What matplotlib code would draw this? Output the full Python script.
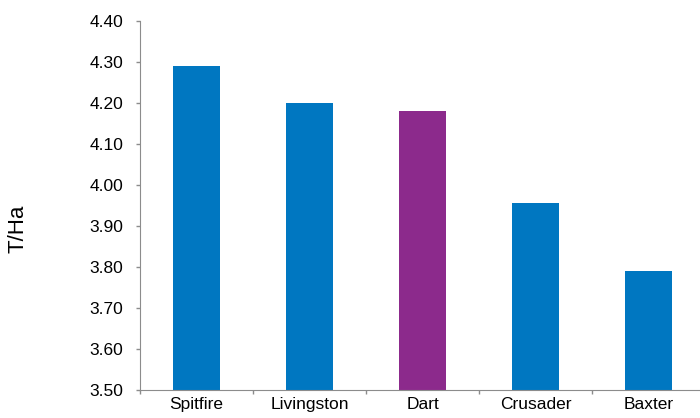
import matplotlib
matplotlib.use('Agg')
import matplotlib.pyplot as plt
import numpy as np

plt.rcParams['font.family'] = ['Liberation Sans', 'DejaVu Sans']

varieties = ['Spitfire', 'Livingston', 'Dart', 'Crusader', 'Baxter']
yields = [4.29, 4.20, 4.18, 3.955, 3.79]
highlight = 'Dart'

blue = '#0077c1'
purple = '#8c2a8c'
grey = '#8c8c8c'

fig = plt.figure(figsize=(7, 4.18), dpi=100)
# axis runs slightly past the right edge, as in the original
ax = fig.add_axes([140 / 700, 28 / 418, 565 / 700, 369 / 418])

x = np.arange(len(varieties))
colors = [purple if v == highlight else blue for v in varieties]
ax.bar(x, yields, width=0.41, color=colors, zorder=2)

ax.set_xlim(-0.5, len(varieties) - 0.5)
ax.set_ylim(3.5, 4.4)
ticks = np.arange(3.5, 4.41, 0.1)
ax.set_yticks(ticks)
ax.set_yticklabels(['%.2f' % v for v in ticks], fontsize=12.5)

# category labels centred, tick marks on category boundaries
ax.set_xticks(x)
ax.set_xticklabels(varieties, fontsize=12.5)
ax.tick_params(axis='x', length=0, pad=5)
ax.set_xticks(np.arange(-0.5, len(varieties)), minor=True)
ax.tick_params(axis='x', which='minor', length=3, color=grey, width=1)
ax.tick_params(axis='y', length=3, color=grey, width=1, pad=9)

for side in ['top', 'right']:
    ax.spines[side].set_visible(False)
for side in ['left', 'bottom']:
    ax.spines[side].set_color(grey)

fig.text(18 / 700, 1 - 229 / 418, 'T/Ha', rotation=90, fontsize=16,
         ha='center', va='center')

fig.savefig('out.png', dpi=100)
